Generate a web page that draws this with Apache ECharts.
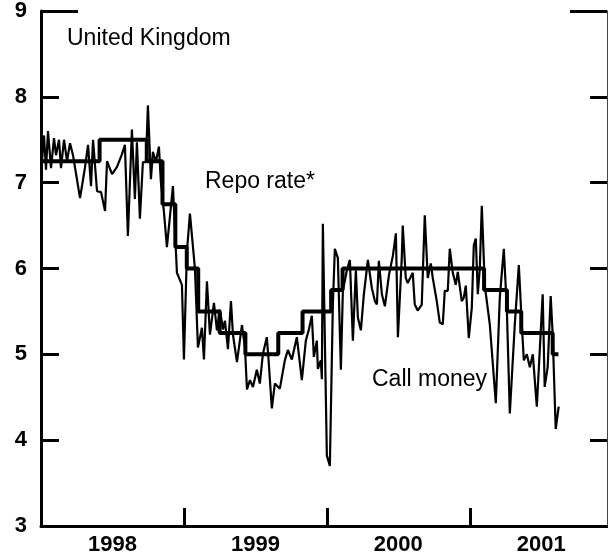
<!DOCTYPE html>
<html>
<head>
<meta charset="utf-8">
<script src="https://cdn.jsdelivr.net/npm/echarts@6/dist/echarts.min.js"></script>
<style>
  html, body { margin: 0; padding: 0; background: #fff; }
  #chart { width: 608px; height: 556px; }
</style>
</head>
<body>
<div id="chart"></div>
<script>
// year boundaries (ticks) and label positions (mid-year)
const yearTicks = [1999, 2000, 2001];
const yearLabels = [1998.5, 1999.5, 2000.5, 2001.5];
const yTicks = [3, 4, 5, 6, 7, 8, 9];

// Repo rate: date of change (decimal year) and new rate
const repoDates = [1998.0, 1998.41, 1998.74, 1998.85, 1998.94, 1999.02, 1999.10, 1999.25, 1999.43, 1999.66, 1999.83, 2000.03, 2000.11, 2001.10, 2001.26, 2001.36, 2001.58, 2001.62];
const repoRates = [7.25, 7.5, 7.25, 6.75, 6.25, 6.0, 5.5, 5.25, 5.0, 5.25, 5.5, 5.75, 6.0, 5.75, 5.5, 5.25, 5.0, 5.0];

// Call money rate (decimal year, percent)
const callDates = [
  1998.000, 1998.021, 1998.035, 1998.049, 1998.070, 1998.091, 1998.105, 1998.126, 1998.140, 1998.161,
  1998.182, 1998.203, 1998.224, 1998.273, 1998.308, 1998.329, 1998.350, 1998.364, 1998.392, 1998.420,
  1998.448, 1998.462, 1998.497, 1998.531, 1998.566, 1998.587, 1998.608, 1998.636, 1998.657, 1998.671,
  1998.692, 1998.713, 1998.734, 1998.748, 1998.769, 1998.783, 1998.804, 1998.825, 1998.839, 1998.860,
  1998.881, 1998.923, 1998.951, 1998.986, 1999.000, 1999.021, 1999.042, 1999.077, 1999.098, 1999.126,
  1999.140, 1999.161, 1999.182, 1999.210, 1999.231, 1999.252, 1999.273, 1999.287, 1999.308, 1999.329,
  1999.343, 1999.371, 1999.406, 1999.427, 1999.441, 1999.462, 1999.483, 1999.510, 1999.531, 1999.552,
  1999.580, 1999.594, 1999.615, 1999.636, 1999.671, 1999.706, 1999.727, 1999.755, 1999.790, 1999.825,
  1999.853, 1999.874, 1999.895, 1999.909, 1999.930, 1999.937, 1999.958, 1999.965, 1999.972, 2000.000,
  2000.021, 2000.042, 2000.056, 2000.077, 2000.098, 2000.112, 2000.140, 2000.161, 2000.182, 2000.203,
  2000.217, 2000.238, 2000.259, 2000.287, 2000.315, 2000.336, 2000.350, 2000.364, 2000.385, 2000.406,
  2000.434, 2000.462, 2000.483, 2000.497, 2000.524, 2000.531, 2000.552, 2000.566, 2000.601, 2000.615,
  2000.636, 2000.664, 2000.685, 2000.706, 2000.727, 2000.741, 2000.769, 2000.790, 2000.811, 2000.825,
  2000.846, 2000.860, 2000.881, 2000.902, 2000.916, 2000.944, 2000.958, 2000.972, 2000.993, 2001.014,
  2001.028, 2001.042, 2001.056, 2001.070, 2001.084, 2001.105, 2001.140, 2001.182, 2001.210, 2001.238,
  2001.259, 2001.280, 2001.315, 2001.343, 2001.364, 2001.378, 2001.399, 2001.420, 2001.441, 2001.469,
  2001.510, 2001.524, 2001.545, 2001.566, 2001.580, 2001.601, 2001.622
];
const callRates = [
  7.10, 7.55, 7.15, 7.60, 7.17, 7.52, 7.32, 7.50, 7.17, 7.50,
  7.25, 7.46, 7.32, 6.82, 7.18, 7.44, 6.96, 7.50, 6.90, 6.89,
  6.67, 7.25, 7.10, 7.18, 7.33, 7.44, 6.38, 7.62, 6.81, 7.47,
  6.58, 7.24, 7.24, 7.90, 7.04, 7.36, 7.24, 7.42, 7.00, 6.66,
  6.25, 6.96, 5.95, 5.81, 4.94, 6.20, 6.64, 6.00, 5.08, 5.31,
  4.94, 5.85, 5.23, 5.60, 5.28, 5.52, 5.29, 5.39, 5.06, 5.62,
  5.23, 4.91, 5.34, 5.08, 4.59, 4.70, 4.62, 4.82, 4.66, 5.00,
  5.20, 4.89, 4.37, 4.66, 4.60, 4.93, 5.05, 4.94, 5.20, 4.70,
  5.16, 5.29, 5.45, 4.97, 5.16, 4.83, 4.93, 4.71, 6.52, 3.82,
  3.70, 5.58, 6.23, 6.12, 4.82, 5.74, 5.98, 6.10, 5.16, 5.98,
  5.43, 5.28, 5.70, 6.10, 5.77, 5.62, 5.58, 6.09, 5.70, 5.56,
  5.92, 6.15, 6.41, 5.20, 6.12, 6.50, 5.89, 5.83, 5.95, 5.58,
  5.51, 5.58, 6.62, 5.89, 6.06, 5.89, 5.62, 5.37, 5.35, 5.74,
  5.74, 6.23, 5.95, 5.81, 5.96, 5.62, 5.66, 5.80, 5.19, 5.54,
  6.27, 6.35, 5.70, 6.00, 6.73, 5.80, 5.35, 4.43, 5.66, 6.23,
  5.54, 4.31, 5.35, 6.04, 5.35, 4.93, 5.00, 4.85, 5.00, 4.39,
  5.70, 4.62, 4.85, 5.68, 5.23, 4.13, 4.39
];

const chart = echarts.init(document.getElementById('chart'));
const font = 'Liberation Sans, Arial, sans-serif';

chart.setOption({
  animation: false,
  grid: { left: 41, right: 1, top: 10, bottom: 26 },
  xAxis: {
    type: 'value',
    min: 1998,
    max: 2001.96,
    axisLine: { show: true, onZero: false, lineStyle: { color: '#000', width: 3 } },
    axisTick: { show: true, inside: true, length: 18, customValues: yearTicks, lineStyle: { color: '#000', width: 3 } },
    axisLabel: {
      customValues: yearLabels,
      formatter: v => String(Math.floor(v)),
      color: '#000', fontSize: 22, fontWeight: 'bold', fontFamily: font, margin: 8
    },
    splitLine: { show: false }
  },
  yAxis: [
    {
      type: 'value', position: 'left', min: 3, max: 9, interval: 1,
      axisLine: { show: true, lineStyle: { color: '#000', width: 3 } },
      axisTick: { show: true, inside: true, length: 18, customValues: [4, 5, 6, 7, 8], lineStyle: { color: '#000', width: 3 } },
      axisLabel: { customValues: yTicks, color: '#000', fontSize: 22, fontWeight: 'bold', fontFamily: font, margin: 14 },
      splitLine: { show: false }
    },
    {
      type: 'value', position: 'right', min: 3, max: 9, interval: 1,
      axisLine: { show: true, lineStyle: { color: '#444', width: 1 } },
      axisTick: { show: true, inside: true, length: 17, customValues: [4, 5, 6, 7, 8], lineStyle: { color: '#000', width: 3 } },
      axisLabel: { show: false },
      splitLine: { show: false }
    },
    {
      type: 'value', position: 'left', min: 3, max: 9,
      axisLine: { show: false },
      axisTick: { show: true, inside: true, length: 37, customValues: [9], lineStyle: { color: '#000', width: 3 } },
      axisLabel: { show: false },
      splitLine: { show: false }
    },
    {
      type: 'value', position: 'right', min: 3, max: 9,
      axisLine: { show: false },
      axisTick: { show: true, inside: true, length: 37, customValues: [9], lineStyle: { color: '#000', width: 3 } },
      axisLabel: { show: false },
      splitLine: { show: false }
    }
  ],
  series: [
    {
      name: 'Repo rate*',
      type: 'line',
      step: 'end',
      symbol: 'none',
      lineStyle: { color: '#000', width: 4 },
      data: repoDates.map((d, i) => [d, repoRates[i]])
    },
    {
      name: 'Call money',
      type: 'line',
      symbol: 'none',
      lineStyle: { color: '#000', width: 2.2 },
      data: callDates.map((d, i) => [d, callRates[i]])
    }
  ],
  graphic: [
    { type: 'text', left: 67, top: 27, style: { text: 'United Kingdom', fill: '#000', font: '23px ' + font } },
    { type: 'text', left: 205, top: 170, style: { text: 'Repo rate*', fill: '#000', font: '23px ' + font } },
    { type: 'text', left: 372, top: 368, style: { text: 'Call money', fill: '#000', font: '23px ' + font } }
  ]
});
</script>
</body>
</html>
